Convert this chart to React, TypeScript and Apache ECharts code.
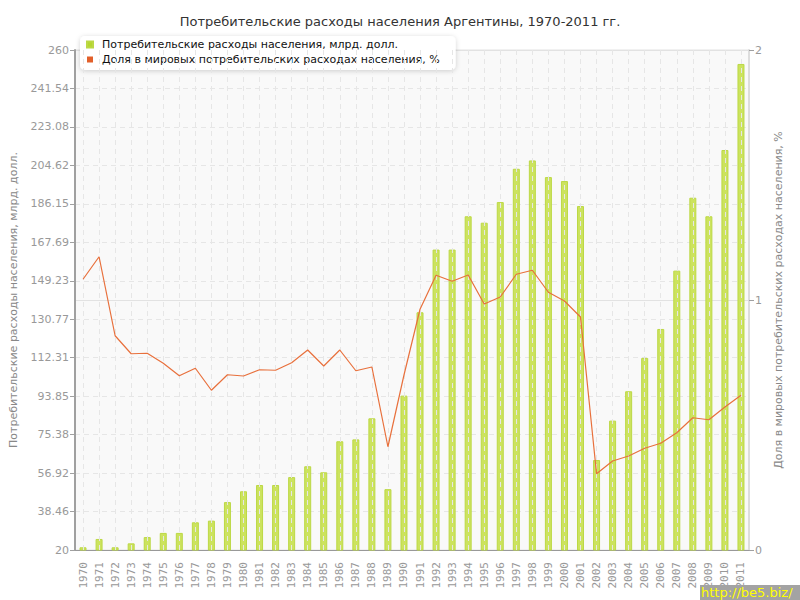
import React, { useEffect, useRef } from "react";
import * as echarts from "echarts";

const years = [
  "1970","1971","1972","1973","1974","1975","1976","1977","1978","1979",
  "1980","1981","1982","1983","1984","1985","1986","1987","1988","1989",
  "1990","1991","1992","1993","1994","1995","1996","1997","1998","1999",
  "2000","2001","2002","2003","2004","2005","2006","2007","2008","2009",
  "2010","2011",
];

const spending = [
  21.3, 25.3, 21.3, 23.2, 26.2, 28.2, 28.2, 33.3, 34.1, 43.0,
  48.2, 51.2, 51.2, 55.0, 60.2, 57.3, 72.2, 73.1, 83.2, 49.2,
  94.1, 134.1, 164.2, 164.2, 180.2, 177.1, 187.0, 203.0, 207.0, 199.0,
  197.1, 185.1, 63.2, 82.1, 96.2, 112.2, 126.1, 154.1, 189.1, 180.2,
  212.0, 253.3,
];

const worldShare = [
  1.083, 1.173, 0.857, 0.785, 0.787, 0.747, 0.697, 0.727, 0.639, 0.701,
  0.696, 0.721, 0.719, 0.749, 0.800, 0.736, 0.800, 0.717, 0.732, 0.413,
  0.700, 0.963, 1.099, 1.075, 1.100, 0.984, 1.012, 1.103, 1.119, 1.031,
  0.996, 0.932, 0.305, 0.356, 0.376, 0.407, 0.427, 0.469, 0.529, 0.521,
  0.572, 0.619,
];

const leftTickLabels = ["20","38.46","56.92","75.38","93.85","112.31","130.77","149.23","167.69","186.15","204.62","223.08","241.54","260"];
const rightTickLabels = ["0", "1", "2"];

const titleText = "Потребительские расходы населения Аргентины, 1970-2011 гг.";
const seriesNames = [
  "Потребительские расходы населения, млрд. долл.",
  "Доля в мировых потребительских расходах населения, %",
];
const leftAxisName = "Потребительские расходы населения, млрд. долл.";
const rightAxisName = "Доля в мировых потребительских расходах населения, %";

const FONT = "DejaVu Sans";
const MONO = "DejaVu Sans Mono";

export default function App() {
  const ref = useRef<HTMLDivElement>(null);

  useEffect(() => {
    if (!ref.current) return;
    const chart = echarts.init(ref.current, null, { renderer: "svg" });
    const leftMin = Number(leftTickLabels[0]);
    const leftMax = Number(leftTickLabels[leftTickLabels.length - 1]);
    const leftInterval = (leftMax - leftMin) / (leftTickLabels.length - 1);
    const halfSteps = Array.from({ length: years.length * 2 + 1 }, (_, i) => String(i));

    chart.setOption({
      animation: false,
      textStyle: { fontFamily: FONT },
      title: {
        text: titleText,
        left: "center",
        top: 10,
        textStyle: { fontFamily: FONT, fontSize: 13, fontWeight: "normal", color: "#333" },
      },
      legend: {
        orient: "vertical",
        left: 80,
        top: 36,
        padding: [2, 16, 4, 6],
        itemGap: 2,
        itemWidth: 6,
        itemHeight: 6,
        icon: "rect",
        backgroundColor: "#ffffff",
        borderRadius: 5,
        shadowBlur: 5,
        shadowColor: "rgba(0,0,0,0.18)",
        shadowOffsetY: 1,
        textStyle: {
          fontFamily: FONT,
          fontSize: 11,
          color: "#111",
          lineHeight: 13,
          padding: [0, 0, 0, 4],
        },
        data: [
          { name: seriesNames[0], itemStyle: { color: "#b6d62e" } },
          { name: seriesNames[1], itemStyle: { color: "#e2602a" } },
        ],
      },
      grid: {
        left: 71,
        right: 51,
        top: 50,
        bottom: 50,
        show: true,
        backgroundColor: "#f9f9f9",
        borderColor: "#e2e2e2",
        borderWidth: 1,
      },
      xAxis: [
        {
          type: "category",
          data: years,
          boundaryGap: true,
          axisLine: { lineStyle: { color: "#999", width: 1 } },
          axisTick: { alignWithLabel: true, length: 5, lineStyle: { color: "#999" } },
          axisLabel: {
            rotate: 90,
            interval: 0,
            color: "#999",
            fontSize: 11,
            fontFamily: MONO,
            margin: 12,
          },
          splitLine: { show: false },
        },
        {
          type: "category",
          data: halfSteps,
          boundaryGap: false,
          position: "bottom",
          z: 5,
          axisLine: { show: false },
          axisTick: { show: false },
          axisLabel: { show: false },
          splitLine: {
            show: true,
            interval: (idx: number) => idx % 2 === 1,
            lineStyle: { color: "#e6e6e6", type: [5, 4], width: 1 },
          },
        },
      ],
      yAxis: [
        {
          type: "value",
          min: leftMin,
          max: leftMax,
          interval: leftInterval,
          name: leftAxisName,
          nameLocation: "middle",
          nameRotate: 90,
          nameGap: 56,
          nameTextStyle: { color: "#888", fontSize: 11, fontFamily: FONT },
          axisLine: { show: true, lineStyle: { color: "#a0a0a0", width: 2 } },
          axisTick: { show: true, length: 5, lineStyle: { color: "#a0a0a0" } },
          axisLabel: {
            color: "#999",
            fontSize: 11,
            fontFamily: FONT,
            margin: 6,
            formatter: (v: number) => {
              const i = Math.round((v - leftMin) / leftInterval);
              return leftTickLabels[i] ?? String(v);
            },
          },
          splitLine: { show: true, lineStyle: { color: "#e6e6e6", type: [5, 4] } },
        },
        {
          type: "value",
          min: Number(rightTickLabels[0]),
          max: Number(rightTickLabels[rightTickLabels.length - 1]),
          interval: 1,
          position: "right",
          name: rightAxisName,
          nameLocation: "middle",
          nameRotate: 90,
          nameGap: 19,
          nameTextStyle: { color: "#888", fontSize: 11, fontFamily: FONT },
          axisLine: { show: true, lineStyle: { color: "#dddddd", width: 2 } },
          axisTick: { show: true, length: 5, lineStyle: { color: "#a0a0a0" } },
          axisLabel: {
            color: "#999",
            fontSize: 11,
            fontFamily: FONT,
            margin: 6,
            formatter: (v: number) => rightTickLabels[Math.round(v)] ?? String(v),
          },
          splitLine: { show: true, lineStyle: { color: "#e2e2e2", type: "solid" } },
        },
      ],
      series: [
        {
          name: seriesNames[0],
          type: "bar",
          xAxisIndex: 0,
          yAxisIndex: 0,
          data: spending,
          barWidth: 7,
          itemStyle: { color: "#cce35e", borderColor: "#bcd845", borderWidth: 1 },
          z: 2,
        },
        {
          name: seriesNames[1],
          type: "line",
          xAxisIndex: 0,
          yAxisIndex: 1,
          data: worldShare,
          showSymbol: false,
          symbol: "none",
          lineStyle: { color: "#e8703c", width: 1.2 },
          itemStyle: { color: "#e8703c" },
          z: 6,
        },
      ],
      graphic: [
        {
          type: "rect",
          left: 700,
          top: 585,
          shape: { width: 100, height: 15 },
          style: { fill: "#a3a3a3" },
          z: 100,
        },
        {
          type: "text",
          left: 701,
          top: 586,
          style: { text: "http://be5.biz/", fill: "#ffff00", font: `13px "${FONT}"` },
          z: 101,
        },
      ],
    });

    return () => chart.dispose();
  }, []);

  return <div ref={ref} style={{ width: 800, height: 600, position: "absolute", left: 0, top: 0 }} />;
}
